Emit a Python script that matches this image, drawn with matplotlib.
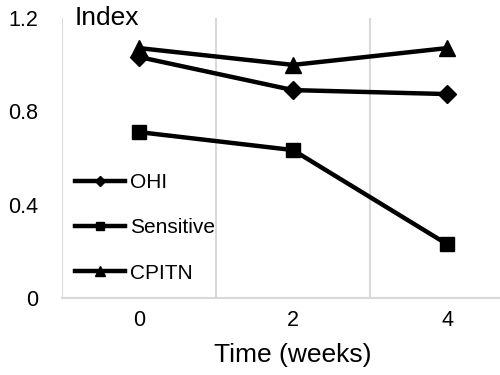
import matplotlib
matplotlib.use("Agg")
import matplotlib.pyplot as plt

plt.rcParams['font.family'] = ['Liberation Sans', 'DejaVu Sans']

categories = ["0", "2", "4"]
ohi = [1.033, 0.891, 0.874]
sensitive = [0.711, 0.634, 0.231]
cpitn = [1.071, 0.999, 1.071]
yticks = [0, 0.4, 0.8, 1.2]
ytick_labels = ["0", "0.4", "0.8", "1.2"]

fig = plt.figure(figsize=(5, 3.75), dpi=100)
ax = fig.add_axes([62/500, 77/375, 462/500, 280/375])

x = list(range(len(categories)))
lw = 3.2
ax.plot(x, ohi, color='black', lw=lw, marker='D', ms=9, label='OHI', clip_on=False)
ax.plot(x, sensitive, color='black', lw=lw, marker='s', ms=10, label='Sensitive', clip_on=False)
ax.plot(x, cpitn, color='black', lw=lw, marker='^', ms=11, label='CPITN', clip_on=False)

ax.set_xlim(-0.5, 2.5)
ax.set_ylim(0, 1.2)
ax.set_xticks(x)
ax.set_xticklabels(categories, fontsize=15.5)
ax.set_yticks(yticks)
ax.set_yticklabels(ytick_labels, fontsize=15.5)
ax.tick_params(length=0)
ax.tick_params(axis='y', pad=17)
ax.tick_params(axis='x', pad=9)

for s in ['top', 'right', 'left']:
    ax.spines[s].set_visible(False)
ax.spines['bottom'].set_color('#d9d9d9')
ax.spines['bottom'].set_linewidth(1.5)
for xv in [-0.5, 0.5, 1.5]:
    ax.axvline(xv, color='#d9d9d9', lw=1.5, zorder=0)

ax.set_xlabel("Time (weeks)", fontsize=19, labelpad=8)
ax.text(13/462, 1.0, "Index", transform=ax.transAxes, fontsize=19, va='center', ha='left')

ax.legend(loc='center left', bbox_to_anchor=(13/462, (298-228)/280), frameon=False,
          fontsize=15, handlelength=2.4, handletextpad=0.25, borderpad=0, borderaxespad=0,
          labelspacing=1.25, markerscale=0.6)

fig.savefig("out.png", dpi=100)
